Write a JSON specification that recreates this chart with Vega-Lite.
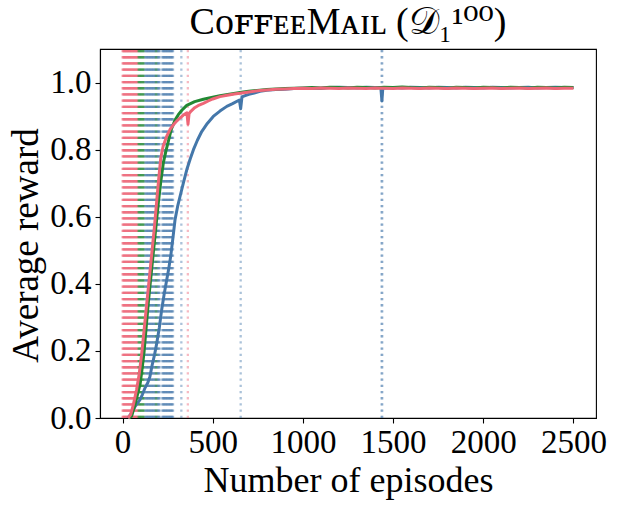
{
  "$schema": "https://vega.github.io/schema/vega-lite/v6.json",
  "width": 496,
  "height": 369,
  "autosize": "none",
  "padding": {"left": 100, "top": 49, "right": 21, "bottom": 91},
  "background": "white",
  "title": {
    "text": "CᴏꜰꜰᴇᴇMᴀɪʟ (𝒟₁¹⁰⁰)",
    "font": "Liberation Serif, DejaVu Serif",
    "fontSize": 38,
    "fontWeight": "normal",
    "color": "black",
    "anchor": "middle",
    "offset": 6
  },
  "config": {
    "view": {"stroke": "black", "strokeWidth": 1.1},
    "axis": {
      "grid": false,
      "domainColor": "black",
      "domainWidth": 1.1,
      "tickColor": "black",
      "tickWidth": 1.1,
      "tickSize": 5,
      "labelColor": "black",
      "titleColor": "black",
      "labelFont": "Liberation Serif",
      "titleFont": "Liberation Serif",
      "titleFontWeight": "normal",
      "labelFontSize": 33,
      "titleFontSize": 36
    }
  },
  "datasets": {
    "events": [
      {"s": "s3", "ep": 0}, {"s": "s3", "ep": 3}, {"s": "s3", "ep": 6}, {"s": "s3", "ep": 9}, {"s": "s3", "ep": 12},
      {"s": "s3", "ep": 15}, {"s": "s3", "ep": 18}, {"s": "s3", "ep": 21}, {"s": "s3", "ep": 24}, {"s": "s3", "ep": 27},
      {"s": "s3", "ep": 30}, {"s": "s3", "ep": 33}, {"s": "s3", "ep": 36}, {"s": "s3", "ep": 39}, {"s": "s3", "ep": 42},
      {"s": "s3", "ep": 45}, {"s": "s3", "ep": 48}, {"s": "s3", "ep": 51}, {"s": "s3", "ep": 54}, {"s": "s3", "ep": 57},
      {"s": "s3", "ep": 60}, {"s": "s3", "ep": 63}, {"s": "s3", "ep": 66}, {"s": "s3", "ep": 69}, {"s": "s3", "ep": 72},
      {"s": "s3", "ep": 75}, {"s": "s3", "ep": 78}, {"s": "s3", "ep": 81}, {"s": "s3", "ep": 84}, {"s": "s3", "ep": 362},
      {"s": "s2", "ep": 88}, {"s": "s2", "ep": 92}, {"s": "s2", "ep": 96}, {"s": "s2", "ep": 100}, {"s": "s2", "ep": 104},
      {"s": "s2", "ep": 108}, {"s": "s2", "ep": 112}, {"s": "s2", "ep": 116}, {"s": "s2", "ep": 120},
      {"s": "s2", "ep": 182}, {"s": "s2", "ep": 186}, {"s": "s2", "ep": 190},
      {"s": "s1", "ep": 126}, {"s": "s1", "ep": 130}, {"s": "s1", "ep": 134}, {"s": "s1", "ep": 138}, {"s": "s1", "ep": 142},
      {"s": "s1", "ep": 146}, {"s": "s1", "ep": 150}, {"s": "s1", "ep": 154}, {"s": "s1", "ep": 158}, {"s": "s1", "ep": 162},
      {"s": "s1", "ep": 166}, {"s": "s1", "ep": 170}, {"s": "s1", "ep": 174}, {"s": "s1", "ep": 178},
      {"s": "s1", "ep": 194}, {"s": "s1", "ep": 198}, {"s": "s1", "ep": 202}, {"s": "s1", "ep": 206},
      {"s": "s1", "ep": 220}, {"s": "s1", "ep": 224}, {"s": "s1", "ep": 228}, {"s": "s1", "ep": 232}, {"s": "s1", "ep": 236},
      {"s": "s1", "ep": 240}, {"s": "s1", "ep": 244}, {"s": "s1", "ep": 248}, {"s": "s1", "ep": 252}, {"s": "s1", "ep": 256},
      {"s": "s1", "ep": 260}, {"s": "s1", "ep": 264}, {"s": "s1", "ep": 268}, {"s": "s1", "ep": 272}, {"s": "s1", "ep": 276},
      {"s": "s1", "ep": 280}, {"s": "s1", "ep": 326}, {"s": "s1", "ep": 655}, {"s": "s1", "ep": 1436}, {"s": "s1", "ep": 1440}
    ],
    "curves": [
      {"s": "s1", "ep": 30, "r": 0}, {"s": "s1", "ep": 50, "r": 0.015}, {"s": "s1", "ep": 70, "r": 0.035},
      {"s": "s1", "ep": 97, "r": 0.055}, {"s": "s1", "ep": 110, "r": 0.07}, {"s": "s1", "ep": 125, "r": 0.09},
      {"s": "s1", "ep": 140, "r": 0.105}, {"s": "s1", "ep": 152, "r": 0.124}, {"s": "s1", "ep": 165, "r": 0.16},
      {"s": "s1", "ep": 178, "r": 0.19}, {"s": "s1", "ep": 190, "r": 0.224}, {"s": "s1", "ep": 204, "r": 0.27},
      {"s": "s1", "ep": 217, "r": 0.323}, {"s": "s1", "ep": 231, "r": 0.37}, {"s": "s1", "ep": 245, "r": 0.412},
      {"s": "s1", "ep": 256, "r": 0.445}, {"s": "s1", "ep": 267, "r": 0.482}, {"s": "s1", "ep": 280, "r": 0.54},
      {"s": "s1", "ep": 291, "r": 0.591}, {"s": "s1", "ep": 305, "r": 0.63}, {"s": "s1", "ep": 319, "r": 0.661},
      {"s": "s1", "ep": 337, "r": 0.70}, {"s": "s1", "ep": 356, "r": 0.74}, {"s": "s1", "ep": 375, "r": 0.772},
      {"s": "s1", "ep": 393, "r": 0.80}, {"s": "s1", "ep": 415, "r": 0.828}, {"s": "s1", "ep": 439, "r": 0.854},
      {"s": "s1", "ep": 470, "r": 0.878}, {"s": "s1", "ep": 503, "r": 0.899}, {"s": "s1", "ep": 540, "r": 0.915},
      {"s": "s1", "ep": 578, "r": 0.929}, {"s": "s1", "ep": 610, "r": 0.937}, {"s": "s1", "ep": 648, "r": 0.948},
      {"s": "s1", "ep": 655, "r": 0.922}, {"s": "s1", "ep": 662, "r": 0.957}, {"s": "s1", "ep": 680, "r": 0.961},
      {"s": "s1", "ep": 700, "r": 0.965}, {"s": "s1", "ep": 730, "r": 0.969}, {"s": "s1", "ep": 762, "r": 0.974},
      {"s": "s1", "ep": 800, "r": 0.977}, {"s": "s1", "ep": 850, "r": 0.979}, {"s": "s1", "ep": 900, "r": 0.98},
      {"s": "s1", "ep": 950, "r": 0.982}, {"s": "s1", "ep": 1000, "r": 0.983}, {"s": "s1", "ep": 1050, "r": 0.984},
      {"s": "s1", "ep": 1100, "r": 0.983}, {"s": "s1", "ep": 1150, "r": 0.985}, {"s": "s1", "ep": 1200, "r": 0.986},
      {"s": "s1", "ep": 1250, "r": 0.985}, {"s": "s1", "ep": 1300, "r": 0.984}, {"s": "s1", "ep": 1350, "r": 0.986},
      {"s": "s1", "ep": 1400, "r": 0.985}, {"s": "s1", "ep": 1432, "r": 0.985}, {"s": "s1", "ep": 1438, "r": 0.945},
      {"s": "s1", "ep": 1443, "r": 0.983}, {"s": "s1", "ep": 1500, "r": 0.985}, {"s": "s1", "ep": 1550, "r": 0.984},
      {"s": "s1", "ep": 1600, "r": 0.986}, {"s": "s1", "ep": 1650, "r": 0.985}, {"s": "s1", "ep": 1700, "r": 0.984},
      {"s": "s1", "ep": 1750, "r": 0.986}, {"s": "s1", "ep": 1800, "r": 0.985}, {"s": "s1", "ep": 1850, "r": 0.984},
      {"s": "s1", "ep": 1900, "r": 0.986}, {"s": "s1", "ep": 1950, "r": 0.985}, {"s": "s1", "ep": 2000, "r": 0.984},
      {"s": "s1", "ep": 2050, "r": 0.986}, {"s": "s1", "ep": 2100, "r": 0.985}, {"s": "s1", "ep": 2150, "r": 0.984},
      {"s": "s1", "ep": 2200, "r": 0.985}, {"s": "s1", "ep": 2250, "r": 0.986}, {"s": "s1", "ep": 2300, "r": 0.984},
      {"s": "s1", "ep": 2350, "r": 0.985}, {"s": "s1", "ep": 2400, "r": 0.986}, {"s": "s1", "ep": 2450, "r": 0.985},
      {"s": "s1", "ep": 2500, "r": 0.985},

      {"s": "s2", "ep": 35, "r": 0}, {"s": "s2", "ep": 50, "r": 0.005}, {"s": "s2", "ep": 69, "r": 0.04},
      {"s": "s2", "ep": 85, "r": 0.075}, {"s": "s2", "ep": 97, "r": 0.10}, {"s": "s2", "ep": 108, "r": 0.145},
      {"s": "s2", "ep": 119, "r": 0.195}, {"s": "s2", "ep": 131, "r": 0.27}, {"s": "s2", "ep": 143, "r": 0.345},
      {"s": "s2", "ep": 157, "r": 0.42}, {"s": "s2", "ep": 171, "r": 0.495}, {"s": "s2", "ep": 185, "r": 0.57},
      {"s": "s2", "ep": 199, "r": 0.645}, {"s": "s2", "ep": 212, "r": 0.705}, {"s": "s2", "ep": 226, "r": 0.76},
      {"s": "s2", "ep": 240, "r": 0.795}, {"s": "s2", "ep": 254, "r": 0.825}, {"s": "s2", "ep": 270, "r": 0.86},
      {"s": "s2", "ep": 291, "r": 0.888}, {"s": "s2", "ep": 310, "r": 0.905}, {"s": "s2", "ep": 330, "r": 0.918},
      {"s": "s2", "ep": 356, "r": 0.932}, {"s": "s2", "ep": 400, "r": 0.943}, {"s": "s2", "ep": 448, "r": 0.95},
      {"s": "s2", "ep": 500, "r": 0.956}, {"s": "s2", "ep": 540, "r": 0.961}, {"s": "s2", "ep": 600, "r": 0.966},
      {"s": "s2", "ep": 651, "r": 0.97}, {"s": "s2", "ep": 700, "r": 0.974}, {"s": "s2", "ep": 760, "r": 0.977},
      {"s": "s2", "ep": 800, "r": 0.979}, {"s": "s2", "ep": 850, "r": 0.981}, {"s": "s2", "ep": 900, "r": 0.982},
      {"s": "s2", "ep": 950, "r": 0.983}, {"s": "s2", "ep": 1000, "r": 0.984}, {"s": "s2", "ep": 1050, "r": 0.985},
      {"s": "s2", "ep": 1100, "r": 0.984}, {"s": "s2", "ep": 1150, "r": 0.986}, {"s": "s2", "ep": 1200, "r": 0.985},
      {"s": "s2", "ep": 1250, "r": 0.984}, {"s": "s2", "ep": 1300, "r": 0.986}, {"s": "s2", "ep": 1350, "r": 0.985},
      {"s": "s2", "ep": 1400, "r": 0.984}, {"s": "s2", "ep": 1450, "r": 0.986}, {"s": "s2", "ep": 1500, "r": 0.985},
      {"s": "s2", "ep": 1550, "r": 0.987}, {"s": "s2", "ep": 1600, "r": 0.985}, {"s": "s2", "ep": 1650, "r": 0.984},
      {"s": "s2", "ep": 1700, "r": 0.986}, {"s": "s2", "ep": 1750, "r": 0.985}, {"s": "s2", "ep": 1800, "r": 0.983},
      {"s": "s2", "ep": 1850, "r": 0.986}, {"s": "s2", "ep": 1900, "r": 0.985}, {"s": "s2", "ep": 1950, "r": 0.984},
      {"s": "s2", "ep": 2000, "r": 0.986}, {"s": "s2", "ep": 2050, "r": 0.985}, {"s": "s2", "ep": 2100, "r": 0.984},
      {"s": "s2", "ep": 2150, "r": 0.986}, {"s": "s2", "ep": 2200, "r": 0.985}, {"s": "s2", "ep": 2250, "r": 0.983},
      {"s": "s2", "ep": 2300, "r": 0.986}, {"s": "s2", "ep": 2350, "r": 0.985}, {"s": "s2", "ep": 2400, "r": 0.984},
      {"s": "s2", "ep": 2450, "r": 0.986}, {"s": "s2", "ep": 2500, "r": 0.985},

      {"s": "s3", "ep": 30, "r": 0}, {"s": "s3", "ep": 45, "r": 0.01}, {"s": "s3", "ep": 60, "r": 0.04},
      {"s": "s3", "ep": 78, "r": 0.085}, {"s": "s3", "ep": 92, "r": 0.13}, {"s": "s3", "ep": 106, "r": 0.19},
      {"s": "s3", "ep": 120, "r": 0.265}, {"s": "s3", "ep": 134, "r": 0.34}, {"s": "s3", "ep": 148, "r": 0.415},
      {"s": "s3", "ep": 162, "r": 0.49}, {"s": "s3", "ep": 176, "r": 0.565}, {"s": "s3", "ep": 190, "r": 0.65},
      {"s": "s3", "ep": 200, "r": 0.71}, {"s": "s3", "ep": 212, "r": 0.775}, {"s": "s3", "ep": 225, "r": 0.81},
      {"s": "s3", "ep": 245, "r": 0.84}, {"s": "s3", "ep": 265, "r": 0.862}, {"s": "s3", "ep": 282, "r": 0.874},
      {"s": "s3", "ep": 300, "r": 0.885}, {"s": "s3", "ep": 320, "r": 0.895}, {"s": "s3", "ep": 337, "r": 0.903},
      {"s": "s3", "ep": 357, "r": 0.91}, {"s": "s3", "ep": 363, "r": 0.876}, {"s": "s3", "ep": 369, "r": 0.908},
      {"s": "s3", "ep": 380, "r": 0.915}, {"s": "s3", "ep": 400, "r": 0.925}, {"s": "s3", "ep": 425, "r": 0.933},
      {"s": "s3", "ep": 448, "r": 0.938}, {"s": "s3", "ep": 475, "r": 0.945}, {"s": "s3", "ep": 500, "r": 0.951},
      {"s": "s3", "ep": 540, "r": 0.958}, {"s": "s3", "ep": 580, "r": 0.962}, {"s": "s3", "ep": 620, "r": 0.966},
      {"s": "s3", "ep": 651, "r": 0.968}, {"s": "s3", "ep": 700, "r": 0.972}, {"s": "s3", "ep": 762, "r": 0.976},
      {"s": "s3", "ep": 800, "r": 0.978}, {"s": "s3", "ep": 850, "r": 0.98}, {"s": "s3", "ep": 900, "r": 0.981},
      {"s": "s3", "ep": 950, "r": 0.982}, {"s": "s3", "ep": 1000, "r": 0.983}, {"s": "s3", "ep": 1050, "r": 0.982},
      {"s": "s3", "ep": 1100, "r": 0.984}, {"s": "s3", "ep": 1150, "r": 0.983}, {"s": "s3", "ep": 1200, "r": 0.982},
      {"s": "s3", "ep": 1250, "r": 0.984}, {"s": "s3", "ep": 1300, "r": 0.983}, {"s": "s3", "ep": 1350, "r": 0.982},
      {"s": "s3", "ep": 1400, "r": 0.984}, {"s": "s3", "ep": 1450, "r": 0.983}, {"s": "s3", "ep": 1500, "r": 0.982},
      {"s": "s3", "ep": 1550, "r": 0.984}, {"s": "s3", "ep": 1600, "r": 0.983}, {"s": "s3", "ep": 1650, "r": 0.982},
      {"s": "s3", "ep": 1700, "r": 0.984}, {"s": "s3", "ep": 1750, "r": 0.983}, {"s": "s3", "ep": 1800, "r": 0.982},
      {"s": "s3", "ep": 1850, "r": 0.984}, {"s": "s3", "ep": 1900, "r": 0.983}, {"s": "s3", "ep": 1950, "r": 0.982},
      {"s": "s3", "ep": 2000, "r": 0.983}, {"s": "s3", "ep": 2050, "r": 0.984}, {"s": "s3", "ep": 2100, "r": 0.982},
      {"s": "s3", "ep": 2150, "r": 0.983}, {"s": "s3", "ep": 2200, "r": 0.984}, {"s": "s3", "ep": 2250, "r": 0.982},
      {"s": "s3", "ep": 2300, "r": 0.983}, {"s": "s3", "ep": 2350, "r": 0.984}, {"s": "s3", "ep": 2400, "r": 0.982},
      {"s": "s3", "ep": 2450, "r": 0.983}, {"s": "s3", "ep": 2500, "r": 0.983}
    ]
  },
  "layer": [
    {
      "data": {"name": "events"},
      "mark": {"type": "rule", "strokeWidth": 2.3, "strokeDash": [2.3, 3.9], "opacity": 0.45},
      "encoding": {
        "x": {"field": "ep", "type": "quantitative"},
        "y": {"datum": 0, "type": "quantitative"},
        "y2": {"datum": 1.1},
        "color": {"field": "s", "type": "nominal", "legend": null}
      }
    },
    {
      "data": {"name": "curves"},
      "mark": {"type": "line", "strokeWidth": 3, "strokeJoin": "round"},
      "encoding": {
        "x": {
          "field": "ep",
          "type": "quantitative",
          "scale": {"domain": [-125, 2625], "nice": false, "zero": false},
          "axis": {"values": [0, 500, 1000, 1500, 2000, 2500], "format": "d", "title": "Number of episodes", "labelPadding": 3, "titlePadding": 4}
        },
        "y": {
          "field": "r",
          "type": "quantitative",
          "scale": {"domain": [0, 1.1], "nice": false},
          "axis": {"values": [0, 0.2, 0.4, 0.6, 0.8, 1.0], "format": ".1f", "title": "Average reward", "labelPadding": 4, "titlePadding": 4, "titleY": 196, "titleFontSize": 37}
        },
        "color": {
          "field": "s",
          "type": "nominal",
          "scale": {"domain": ["s1", "s2", "s3"], "range": ["#4477AA", "#228833", "#EE6677"]},
          "legend": null
        }
      }
    }
  ]
}
